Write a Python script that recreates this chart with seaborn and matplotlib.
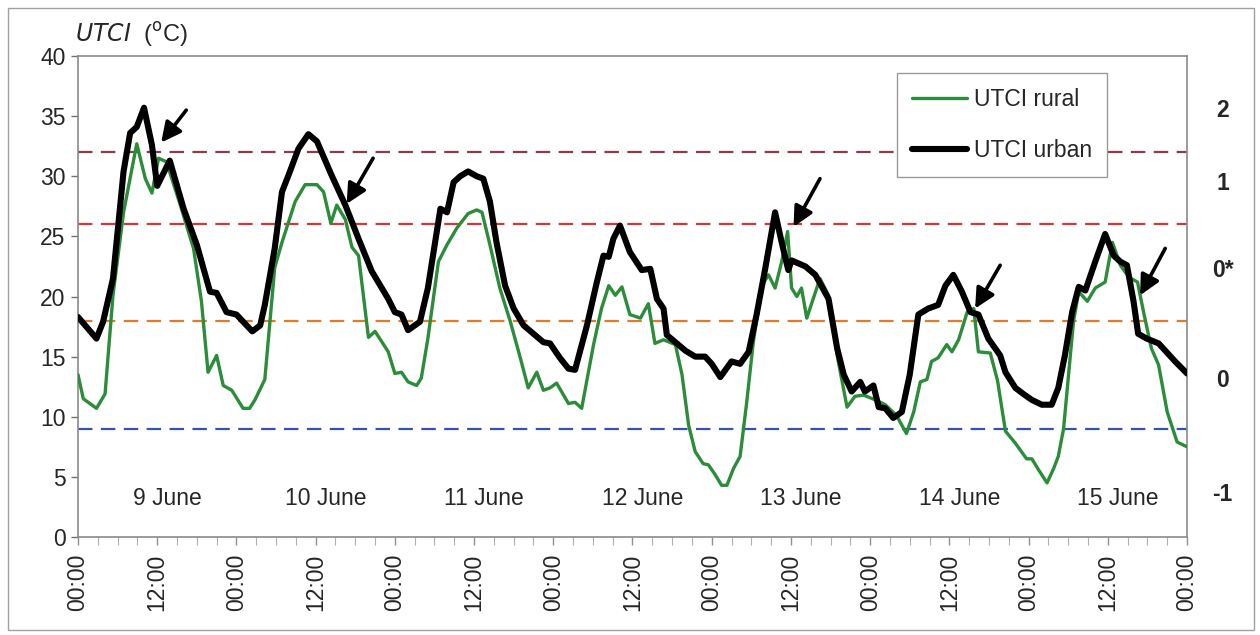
import numpy as np
import pandas as pd
import seaborn as sns
import matplotlib.pyplot as plt
from matplotlib.patches import Rectangle

# hours since 9 June 00:00, UTCI in degC
urban_hours = [0, 2.8, 3.8, 5.3, 6.9, 7.9, 8.9, 10, 11.2, 12, 13.9, 16, 18, 20, 21, 22.5, 24,
               26.4, 27.6, 28.3, 29.8, 30.9, 31.9, 33.4, 34.9, 36.2, 38.4, 40.5, 42.5, 44.5, 47,
               48, 49, 50, 51.8, 53, 54.9, 55.9, 56.9, 57.9, 59.1, 60.4, 61.4, 62.4, 63.4, 64.7,
               66, 67.5, 69, 70.5, 71.5, 73, 74.3, 75.3, 77.1, 78.6, 79.6, 80.4, 81.1, 82.1,
               83.6, 85.4, 86.7, 87.7, 88.7, 89.2, 90.5, 92, 93.5, 95, 96, 97.3, 99, 100.3,
               101.6, 102.8, 104.1, 105.6, 106.6, 107.6, 108.1, 110.2, 111.7, 113.7, 115, 116,
               117.2, 118.5, 119.2, 120.5, 121.3, 122.3, 123.5, 124.8, 126, 127.3, 128.8, 130.3,
               131.4, 132.6, 133.9, 135.2, 136.4, 137.9, 139.7, 140.5, 142, 143.2, 144.5, 146,
               147.5, 148.5, 149.5, 150.6, 151.6, 152.6, 154.1, 155.6, 156.9, 157.9, 158.9,
               159.9, 160.6, 161.9, 163.7, 166.2, 168]
urban_utci = [18.3, 16.5, 17.9, 21.5, 30.4, 33.6, 34.1, 35.7, 32.6, 29.2, 31.3, 27.3, 24.3, 20.4,
              20.3, 18.7, 18.5, 17.1, 17.6, 19.3, 24.0, 28.7, 30.1, 32.3, 33.5, 32.9, 30.1, 27.6,
              24.8, 22.1, 19.8, 18.7, 18.5, 17.2, 17.9, 20.7, 27.3, 27.0, 29.5, 30.0, 30.4, 30.0,
              29.8, 27.9, 24.5, 20.9, 19.0, 17.6, 16.9, 16.2, 16.1, 14.9, 14.0, 13.9, 17.6, 21.2,
              23.4, 23.3, 24.8, 25.9, 23.7, 22.2, 22.3, 19.8, 19.0, 16.8, 16.2, 15.5, 15.0, 15.0,
              14.4, 13.3, 14.6, 14.4, 15.4, 18.5, 22.3, 27.0, 24.5, 22.2, 23.0, 22.5, 21.8, 19.8,
              15.7, 13.5, 12.1, 12.9, 12.1, 12.6, 10.8, 10.7, 9.9, 10.4, 13.5, 18.5, 19.0, 19.3,
              20.9, 21.8, 20.4, 18.7, 18.5, 16.5, 15.1, 13.7, 12.4, 11.9, 11.4, 11.0, 11.0, 12.4,
              15.1, 18.7, 20.8, 20.5, 22.9, 25.2, 23.4, 22.9, 22.6, 19.6, 16.9, 16.5, 16.1,
              14.6, 13.6]

rural_hours = [0, 0.8, 2.8, 4.1, 5.3, 6.9, 8.9, 10.2, 11.2, 12.2, 13.4, 15.5, 17.5, 18.7, 19.7,
               21, 22, 23.3, 25, 26, 26.8, 28.3, 29.8, 30.9, 32.9, 34.4, 36.2, 37.2, 38.3, 39.2,
               40.5, 41.5, 42.5, 44, 45, 47, 48, 49, 50, 51.3, 52, 53, 54.6, 55.9, 57.4, 59.1,
               60.4, 61.2, 62.4, 63.9, 65.5, 67, 68.2, 69.5, 70.5, 71.5, 72.5, 74.3, 75.3, 76.3,
               78.1, 79.3, 80.4, 81.4, 82.4, 83.6, 85.2, 86.4, 87.4, 88.7, 90.5, 91.5, 92.5,
               93.5, 94.7, 95.5, 96.5, 97.5, 98.3, 99.3, 100.3, 101.3, 102.3, 103.6, 104.6,
               105.6, 106.6, 107.5, 108.1, 108.9, 109.6, 110.4, 112.4, 113.7, 115, 116.5, 117.7,
               119, 120.8, 122.3, 124, 125.5, 126.6, 127.6, 128.6, 129.3, 130.3, 131.6, 132.4,
               133.4, 134.7, 135.7, 136.4, 138.2, 139.3, 140.5, 142, 143.7, 144.5, 145.5, 146.8,
               147.8, 148.5, 149.3, 150, 150.8, 151.6, 152.9, 154.1, 155.6, 156.7, 157.9, 159.2,
               160.5, 161.5, 162.6, 163.7, 165, 166.5, 168]
rural_utci = [13.5, 11.5, 10.7, 11.9, 20.1, 27.0, 32.7, 29.8, 28.6, 31.5, 31.2, 27.6, 24.0, 19.6,
              13.7, 15.1, 12.6, 12.2, 10.7, 10.7, 11.4, 13.1, 22.4, 24.5, 27.9, 29.3, 29.3, 28.7,
              26.1, 27.6, 26.4, 24.1, 23.4, 16.6, 17.1, 15.4, 13.6, 13.7, 12.9, 12.6, 13.2, 16.5,
              22.9, 24.3, 25.7, 26.9, 27.2, 27.0, 24.3, 20.7, 17.9, 14.9, 12.4, 13.7, 12.2, 12.4,
              12.8, 11.1, 11.2, 10.7, 16.0, 19.0, 20.9, 20.1, 20.8, 18.5, 18.2, 19.4, 16.1, 16.4,
              16.0, 13.5, 9.3, 7.1, 6.1, 6.0, 5.2, 4.3, 4.3, 5.7, 6.7, 11.2, 16.2, 20.9, 21.8,
              20.7, 22.9, 25.4, 20.7, 20.0, 20.7, 18.2, 21.5, 20.1, 15.1, 10.8, 11.7, 11.8, 11.4,
              11.0, 10.1, 8.6, 10.4, 12.9, 13.1, 14.6, 14.9, 16.0, 15.4, 16.4, 18.7, 19.0, 15.4,
              15.3, 13.0, 8.8, 7.8, 6.5, 6.5, 5.6, 4.5, 5.7, 6.7, 9.0, 13.2, 17.9, 20.4, 19.6,
              20.7, 21.2, 24.5, 22.6, 21.6, 21.2, 18.5, 15.7, 14.3, 10.4, 7.9, 7.5]

# category thresholds and labels on the right
thresholds = [32, 26, 18, 9]
threshold_colors = ['#8a3b4e', '#d2383a', '#e07b2c', '#3553a8']
category_labels = ['2', '1', '0*', '0', '-1']
category_y = [35.5, 29.4, 22.2, 13.0, 3.5]

day_labels = ['9 June', '10 June', '11 June', '12 June', '13 June', '14 June', '15 June']

# arrows: (head hour, head value, tail hour, tail value)
arrows = [(12.6, 32.8, 16.4, 35.5), (40.7, 27.7, 44.7, 31.5), (108.4, 25.8, 112.4, 29.8),
          (135.9, 19.0, 139.7, 22.6), (160.9, 20.1, 164.7, 24.0)]

sns.set_style('white')
plt.rcParams['font.family'] = ['Liberation Sans', 'DejaVu Sans']

fig = plt.figure(figsize=(12.6, 6.35), dpi=100)
ax = fig.add_axes([78 / 1260, 1 - 537 / 635, 1109 / 1260, 481 / 635])

for y, c in zip(thresholds, threshold_colors):
    ax.axhline(y, color=c, lw=1.6, dashes=(6.5, 3.8), zorder=1)

rural = pd.DataFrame({'hour': rural_hours, 'utci': rural_utci})
urban = pd.DataFrame({'hour': urban_hours, 'utci': urban_utci})
sns.lineplot(data=rural, x='hour', y='utci', ax=ax, color='#2b8c3a', lw=2.4,
             sort=False, estimator=None, label='UTCI rural', zorder=3)
sns.lineplot(data=urban, x='hour', y='utci', ax=ax, color='black', lw=4.4,
             sort=False, estimator=None, label='UTCI urban', zorder=4)

for hx, hy, tx, ty in arrows:
    ax.annotate('', xy=(hx, hy), xytext=(tx, ty), zorder=5,
                arrowprops=dict(arrowstyle='-|>,head_length=1.2,head_width=0.6',
                                color='black', lw=2.6, shrinkA=0, shrinkB=0))

for i, lab in enumerate(day_labels):
    ax.text(24 * i + 13.5, 3.2, lab, ha='center', va='center', fontsize=16.5)

for lab, y in zip(category_labels, category_y):
    ax.text(1.032, y, lab, transform=ax.get_yaxis_transform(), ha='center', va='center',
            fontsize=16.5, fontweight='bold')

ax.set_xlim(0, 168)
ax.set_ylim(0, 40)
ax.set_xticks(np.arange(0, 169, 12))
ax.set_xticklabels(['00:00' if t % 24 == 0 else '12:00' for t in range(0, 169, 12)],
                   rotation=90, fontsize=16.5)
ax.set_xticks(np.arange(0, 169, 3), minor=True)
ax.set_yticks(np.arange(0, 41, 5))
ax.tick_params(axis='y', labelsize=16.5, length=5, width=1, color='#707070', left=True, pad=4)
ax.tick_params(axis='x', which='major', length=6, width=1, color='#909090', bottom=True, pad=6)
ax.tick_params(axis='x', which='minor', length=6, width=0.8, color='#b0b0b0', bottom=True)
ax.set_xlabel('')
ax.set_ylabel('')
for s in ax.spines.values():
    s.set_color('#8a8a8a')
    s.set_linewidth(1.2)

leg = ax.legend(loc='upper right', bbox_to_anchor=(0.928, 0.965), borderaxespad=0,
                fontsize=16.5, frameon=True, fancybox=False, edgecolor='#9a9a9a',
                framealpha=1, handlelength=2.4, labelspacing=1.25, borderpad=0.65,
                handletextpad=0.3)
leg.get_frame().set_linewidth(1.0)

fig.text(75 / 1260, 1 - 35 / 635, r'$\it{UTCI}$  ($^{\rm o}$C)', fontsize=17,
         ha='left', va='center')

fig.patches.append(Rectangle((8 / 1260, 5 / 635), 1246 / 1260, 622 / 635,
                             transform=fig.transFigure, fill=False,
                             edgecolor='#a0a0a0', lw=1.0))

plt.savefig('out.png', dpi=100)
